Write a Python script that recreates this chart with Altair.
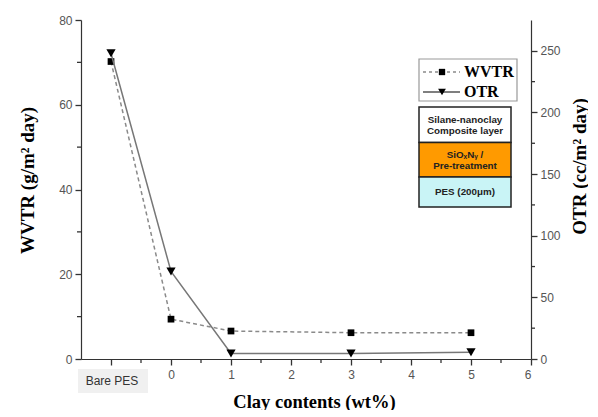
import altair as alt
import pandas as pd

# ---- data ----
x_vals = [-1, 0, 1, 3, 5]          # -1 is the "Bare PES" position
wvtr = [70.2, 9.4, 6.6, 6.2, 6.2]  # g/m2 day (left axis)
otr = [248.0, 71.0, 4.5, 4.5, 5.4]  # cc/m2 day (right axis)

x_major = [-1, 0, 1, 2, 3, 4, 5, 6]
x_minor = [-0.5, 0.5, 1.5, 2.5, 3.5, 4.5, 5.5]
left_major = [0, 20, 40, 60, 80]
left_minor = [10, 30, 50, 70]
right_major = [0, 50, 100, 150, 200, 250]
right_minor = [25, 75, 125, 175, 225]

df = pd.DataFrame({"x": x_vals, "wvtr": wvtr, "otr": otr})
one = pd.DataFrame({"a": [0]})

LBL_FONT = "Liberation Sans"
TTL_FONT = "Liberation Serif"
TICK = "#333333"
AX = dict(
    labelFont=LBL_FONT, labelFontSize=12, labelColor="#555",
    domainColor="#333", tickColor=TICK, domainWidth=1.2, tickWidth=1.3,
    tickSize=6, ticks=True, grid=False,
    titleFont=TTL_FONT, titleFontWeight="bold", titleColor="#000",
)

x_enc = alt.X(
    "x:Q",
    scale=alt.Scale(domain=[-1.5, 6], nice=False, zero=False),
    axis=alt.Axis(
        values=x_major,
        labelExpr="datum.value >= 0 ? format(datum.value, 'd') : ''",
        title="Clay contents (wt%)",
        titleFontSize=18.5,
        titleX=233, titleY=42, titleBaseline="middle", titleAlign="center",
        labelPadding=4,
        **AX,
    ),
)

left_axis = alt.Axis(
    orient="left",
    values=left_major,
    format="d",
    title="WVTR (g/m² day)",
    titleFontSize=19,
    titleX=-54, titleY=160, titleAngle=270, titleBaseline="middle", titleAlign="center",
    labelPadding=3,
    **AX,
)
right_axis = alt.Axis(
    orient="right",
    values=right_major,
    format="d",
    title="OTR (cc/m² day)",
    titleFontSize=19,
    titleX=48, titleY=146, titleAngle=270, titleBaseline="middle", titleAlign="center",
    labelPadding=3,
    **AX,
)

y_left = alt.Y("wvtr:Q", scale=alt.Scale(domain=[0, 80], nice=False), axis=left_axis)
y_right = alt.Y("otr:Q", scale=alt.Scale(domain=[0, 275], nice=False), axis=right_axis)

w_line = alt.Chart(df).mark_line(color="#8a8a8a", strokeDash=[4, 3], strokeWidth=1.5).encode(x=x_enc, y=y_left)
w_pts = alt.Chart(df).mark_point(shape="square", filled=True, color="#000", opacity=1, size=45).encode(x=x_enc, y=y_left)
w_minor = alt.Chart(pd.DataFrame({"wvtr": left_minor})).mark_rule(color=TICK, strokeWidth=1.3).encode(
    y=y_left, x=alt.value(0), x2=alt.value(-4))

o_line = alt.Chart(df).mark_line(color="#777", strokeWidth=1.5).encode(x=x_enc, y=y_right)
o_pts = alt.Chart(df).mark_point(shape="triangle-down", filled=True, color="#000", opacity=1, size=85).encode(x=x_enc, y=y_right)
o_minor = alt.Chart(pd.DataFrame({"otr": right_minor})).mark_rule(color=TICK, strokeWidth=1.3).encode(
    y=y_right, x=alt.value(450), x2=alt.value(454))

x_minor_layer = alt.Chart(pd.DataFrame({"x": x_minor})).mark_rule(color=TICK, strokeWidth=1.3).encode(
    x=x_enc, y=alt.value(339), y2=alt.value(343))

left = alt.layer(w_line, w_pts, w_minor)
right = alt.layer(o_line, o_pts, o_minor)


def rect(x1, x2, y1, y2, fill, stroke=None, sw=0):
    kw = dict(fill=fill)
    if stroke:
        kw.update(stroke=stroke, strokeWidth=sw)
    return alt.Chart(one).mark_rect(**kw).encode(
        x=alt.value(x1), x2=alt.value(x2), y=alt.value(y1), y2=alt.value(y2))


def text(t, x, y, size, font, weight="normal", color="#000", align="center"):
    return alt.Chart(one).mark_text(
        text=t, fontSize=size, font=font, fontWeight=weight, color=color,
        align=align, baseline="middle").encode(x=alt.value(x), y=alt.value(y))


def hline(x1, x2, y, color, dash=None):
    kw = dict(color=color, strokeWidth=1.5)
    if dash:
        kw["strokeDash"] = dash
    return alt.Chart(one).mark_rule(**kw).encode(x=alt.value(x1), x2=alt.value(x2), y=alt.value(y))


def marker(shape, x, y, size):
    return alt.Chart(one).mark_point(shape=shape, filled=True, color="#000", opacity=1, size=size).encode(
        x=alt.value(x), y=alt.value(y))


deco = [
    # Bare PES label
    rect(-3, 67, 349, 373, "#f0f0f0"),
    text("Bare PES", 31, 361, 12, LBL_FONT, color="#333"),
    # legend
    rect(338, 436, 39, 81, "#fff", "#999", 1.2),
    hline(342, 379, 52, "#8a8a8a", [3, 3]),
    marker("square", 361, 52, 40),
    text("WVTR", 383, 52, 16, TTL_FONT, "bold", align="left"),
    hline(342, 379, 72, "#555"),
    marker("triangle-down", 361, 72, 60),
    text("OTR", 383, 72, 16, TTL_FONT, "bold", align="left"),
    # layer diagram
    rect(338, 430, 87, 122.5, "#ffffff", "#222", 1.5),
    rect(338, 430, 122.5, 157, "#ff9a00", "#222", 1.5),
    rect(338, 430, 157, 187, "#c9f4f6", "#222", 1.5),
    text("Silane-nanoclay", 384, 100, 9.8, LBL_FONT, "bold", "#222"),
    text("Composite layer", 384, 111, 9.8, LBL_FONT, "bold", "#222"),
    text("SiOₓNᵧ /", 384, 135, 9.8, LBL_FONT, "bold", "#222"),
    text("Pre-treatment", 384, 146, 9.8, LBL_FONT, "bold", "#222"),
    text("PES (200μm)", 384, 172, 9.8, LBL_FONT, "bold", "#222"),
]

chart = alt.layer(left, right, x_minor_layer, *deco).resolve_scale(y="independent").properties(
    width=450,
    height=339,
    autosize=alt.AutoSizeParams(type="none"),
    padding={"left": 73, "top": 12, "right": 57, "bottom": 51},
).configure_view(strokeWidth=0)

chart.save("out.html", embed_options={"renderer": "svg", "actions": False})
